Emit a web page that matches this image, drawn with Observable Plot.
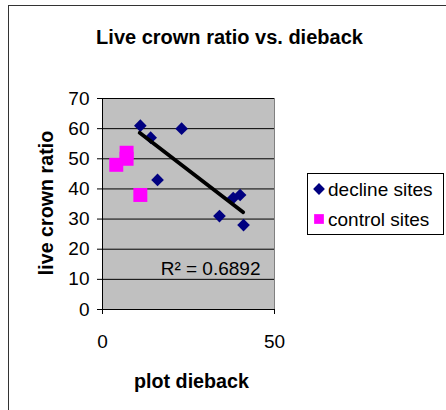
<!DOCTYPE html>
<html>
<head>
<meta charset="utf-8">
<script src="https://cdn.jsdelivr.net/npm/d3@7"></script>
<script src="https://cdn.jsdelivr.net/npm/@observablehq/plot@0.6"></script>
<style>
  html, body { margin: 0; padding: 0; background: #fff; overflow: hidden; }
  #wrap { position: relative; width: 446px; height: 410px; overflow: hidden; font-family: "Liberation Sans", Arial, sans-serif; }
  #outer { position: absolute; left: 8px; top: 5px; width: 600px; height: 600px; border: 1px solid #333; box-sizing: border-box; }
  #chart { position: absolute; left: 0; top: 0; }
  #legend { position: absolute; left: 307px; top: 173px; width: 137px; height: 62px; border: 1px solid #000; box-sizing: border-box; background: #fff; font-size: 19px; color: #000; }
  .item { position: absolute; left: 4px; display: flex; align-items: center; white-space: nowrap; line-height: 20px; }
  .item svg { margin-right: 1px; }
</style>
</head>
<body>
<div id="wrap">
  <div id="outer"></div>
  <div id="chart"></div>
  <div id="legend"></div>
</div>
<script>
// ---- data ----
const declineX = [11, 14, 23, 16, 40, 38, 34, 41];
const declineY = [61, 57, 60, 43, 38, 37, 31, 28];
const controlX = [4, 7, 7, 11];
const controlY = [48, 52, 50, 38];
const trendX = [10.8, 40.9];
const trendY = [58.6, 32.3];
const yTicks = [0, 10, 20, 30, 40, 50, 60, 70];
const xTicks = [0, 50];
const seriesNames = ["decline sites", "control sites"];
const seriesColors = ["#000080", "#ff00ff"];
const titleText = "Live crown ratio vs. dieback";
const xLabel = "plot dieback";
const yLabel = "live crown ratio";
const r2Text = "R\u00b2 = 0.6892";

const decline = declineX.map((x, i) => ({x, y: declineY[i]}));
const control = controlX.map((x, i) => ({x, y: controlY[i]}));
const trend = trendX.map((x, i) => ({x, y: trendY[i]}));

const chart = Plot.plot({
  width: 446,
  height: 410,
  marginLeft: 102,
  marginRight: 172,
  marginTop: 98,
  marginBottom: 101,
  style: {fontFamily: "Liberation Sans, Arial, sans-serif", background: "transparent", color: "#000"},
  x: {domain: [0, 50]},
  y: {domain: [0, 70]},
  marks: [
    Plot.frame({fill: "#c0c0c0", stroke: "#808080"}),
    Plot.gridY(yTicks, {stroke: "#000", strokeOpacity: 1}),
    Plot.ruleX([0], {stroke: "#000"}),
    Plot.ruleY([0], {stroke: "#000"}),
    Plot.axisY(yTicks, {tickSize: 5, tickPadding: 8, fontSize: 19, label: null, stroke: "#000"}),
    Plot.axisX(xTicks, {tickSize: 5, tickPadding: 20, fontSize: 19, label: null, stroke: "#000"}),
    Plot.dot(decline, {x: "x", y: "y", symbol: "diamond2", r: 5.7, fill: seriesColors[0], stroke: null}),
    Plot.dot(control, {x: "x", y: "y", symbol: "square2", r: 8.9, fill: seriesColors[1], stroke: null}),
    Plot.line(trend, {x: "x", y: "y", stroke: "#000", strokeWidth: 3.8}),
    Plot.text([r2Text], {frameAnchor: "bottom-right", dx: -14, dy: -35, textAnchor: "end", lineAnchor: "bottom", fontSize: 19, fill: "#000"}),
    Plot.text([titleText], {frameAnchor: "top", dx: 41, dy: -55, textAnchor: "middle", lineAnchor: "bottom", fontSize: 20, fontWeight: "bold", fill: "#000"}),
    Plot.text([xLabel], {frameAnchor: "bottom", dx: 3, dy: 72, textAnchor: "middle", lineAnchor: "middle", fontSize: 19.7, fontWeight: "bold", fill: "#000"}),
    Plot.text([yLabel], {frameAnchor: "left", dx: -56, dy: -1, rotate: -90, textAnchor: "middle", lineAnchor: "middle", fontSize: 19.7, fontWeight: "bold", fill: "#000"})
  ]
});
document.getElementById("chart").appendChild(chart);

// legend
const legend = document.getElementById("legend");
const symbols = [d3.symbolDiamond2, d3.symbolSquare2];
const sizes = [Math.PI * 5.6 * 5.6 * 0.9, Math.PI * 6.2 * 6.2];
seriesNames.forEach((name, i) => {
  const item = document.createElement("div");
  item.className = "item";
  item.style.top = (i === 0 ? 6 : 36) + "px";
  const svg = d3.create("svg").attr("width", 15).attr("height", 16);
  svg.append("path").attr("transform", "translate(7,7)")
    .attr("d", d3.symbol(symbols[i], sizes[i])()).attr("fill", seriesColors[i]);
  item.appendChild(svg.node());
  const span = document.createElement("span");
  span.textContent = name;
  item.appendChild(span);
  legend.appendChild(item);
});
</script>
</body>
</html>
